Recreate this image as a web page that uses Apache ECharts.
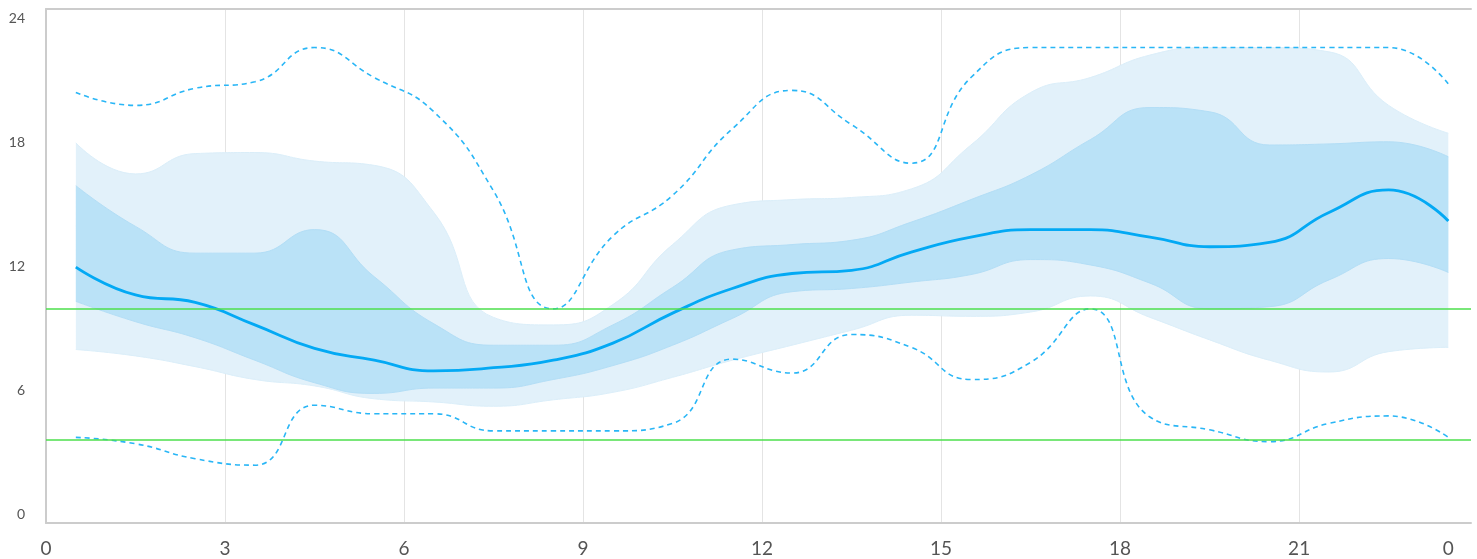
<!DOCTYPE html>
<html>
<head>
<meta charset="utf-8">
<script src="https://cdn.jsdelivr.net/npm/echarts@6/dist/echarts.min.js"></script>
<style>
html,body{margin:0;padding:0;background:#fff;}
#chart{width:1477px;height:559px;}
</style>
</head>
<body>
<div id="chart"></div>
<script>
// ---- data ----
const hours = [0.5,1.5,2.5,3.5,4.5,5.5,6.5,7.5,8.5,9.5,10.5,11.5,12.5,13.5,14.5,15.5,16.5,17.5,18.5,19.5,20.5,21.5,22.5,23.5];
const p5     = [8.1,7.8,7.3,6.7,6.4,5.8,5.65,5.45,5.75,6.1,6.8,7.6,8.3,9.0,9.7,9.65,9.85,10.6,9.6,8.55,7.6,7.05,8.0,8.2];
const p25    = [10.35,9.4,8.65,7.6,6.55,6.05,6.3,6.3,6.7,7.35,8.3,9.55,10.8,10.95,11.25,11.6,12.3,12.05,11.2,10.0,10.1,11.35,12.35,11.7];
const median = [11.95,10.65,10.3,9.25,8.15,7.6,7.1,7.25,7.6,8.4,9.8,10.95,11.65,11.8,12.65,13.35,13.7,13.7,13.35,12.9,13.1,14.5,15.55,14.1];
const p75    = [15.75,13.85,12.6,12.6,13.7,11.5,9.3,8.3,8.3,9.25,11.0,12.75,13.0,13.2,14.05,15.1,16.25,17.9,19.4,19.2,17.65,17.7,17.8,17.1];
const p95    = [17.75,16.3,17.25,17.3,16.9,16.7,14.5,9.6,9.25,10.2,13.0,14.85,15.1,15.2,15.6,17.65,20.1,20.8,21.85,22.2,22.2,22.0,19.5,18.2];
const maxV   = [20.1,19.5,20.3,20.6,22.2,20.8,19.2,15.5,10.0,13.4,15.3,18.4,20.2,18.6,16.8,20.8,22.2,22.2,22.2,22.2,22.2,22.2,22.2,20.5];
const minV   = [4.0,3.7,3.0,2.7,5.5,5.1,5.1,4.3,4.3,4.3,4.65,7.65,7.0,8.8,8.2,6.7,7.5,10.0,4.95,4.35,3.8,4.65,5.0,4.0];
const targetLow = 3.9;
const targetHigh = 10;
const xTickValues = [0,3,6,9,12,15,18,21];
const xLabelValues = [0,3,6,9,12,15,18,21,23.5];
const yLabelRich = {
  o24:{padding:[18,0,0,0]}, o18:{padding:[9,0,0,0]}, o12:{}, o6:{padding:[0,0,9,0]}, o0:{padding:[0,0,18,0]}
};

// rows are [value, hour] so that the stacked dimension is the y value
const rows = arr => hours.map((h,i)=>[arr[i], h]);
const diffRows = (a,b) => hours.map((h,i)=>[+(a[i]-b[i]).toFixed(3), h]);
const enc = {x:1, y:0};

const LIGHT = '#E2F1FA', DARK = '#BAE2F7';
const chart = echarts.init(document.getElementById('chart'));
chart.setOption({
  animation:false,
  textStyle:{fontFamily:'Lato'},
  grid:{left:46,right:6,top:9,bottom:36,containLabel:false,outerBoundsMode:'none'},
  xAxis:[{
    type:'value', min:0, max:23.88, position:'bottom',
    axisLine:{show:true,lineStyle:{color:'#cccccc',width:2}},
    axisTick:{show:false, customValues:xTickValues},
    splitLine:{show:true,lineStyle:{color:'#e4e4e4',width:1}},
    axisLabel:{customValues:xLabelValues, fontSize:19, color:'#555', margin:16, fontFamily:'Lato',
      formatter:v=>String(Math.round(v)%24)}
  },{
    type:'value', min:0, max:23.88, position:'top',
    axisLine:{show:true,lineStyle:{color:'#cccccc',width:2}},
    axisTick:{show:false}, axisLabel:{show:false}, splitLine:{show:false}
  }],
  yAxis:{
    type:'value', min:0, max:24, interval:6,
    axisLine:{show:true,lineStyle:{color:'#cccccc',width:2}},
    axisTick:{show:false}, splitLine:{show:false},
    axisLabel:{fontSize:14,color:'#555',margin:21,fontFamily:'Lato',
      formatter:v=>'{o'+v+'|'+v+'}', rich:yLabelRich}
  },
  series:[
    {type:'line', data:rows(p5), encode:enc, stack:'outer', smooth:0.5, symbol:'none',
      lineStyle:{width:1,color:'#dbeef9'}, z:1},
    {type:'line', data:diffRows(p95,p5), encode:enc, stack:'outer', smooth:0.5, symbol:'none',
      lineStyle:{width:1,color:'#dbeef9'}, areaStyle:{color:LIGHT,opacity:1}, z:1},
    {type:'line', data:rows(p25), encode:enc, stack:'inner', smooth:0.5, symbol:'none',
      lineStyle:{width:1,color:'#b3def6'}, z:2},
    {type:'line', data:diffRows(p75,p25), encode:enc, stack:'inner', smooth:0.5, symbol:'none',
      lineStyle:{width:1,color:'#b3def6'}, areaStyle:{color:DARK,opacity:1}, z:2},
    {type:'line', data:rows(maxV), encode:enc, smooth:0.5, symbol:'none',
      lineStyle:{width:1.6,color:'#29b6f6',type:[5,4]}, z:3},
    {type:'line', data:rows(minV), encode:enc, smooth:0.5, symbol:'none',
      lineStyle:{width:1.6,color:'#29b6f6',type:[5,4]}, z:3},
    {type:'line', data:rows(median), encode:enc, smooth:0.5, symbol:'none',
      lineStyle:{width:2.8,color:'#03a9f4'}, z:4,
      markLine:{silent:true, symbol:'none', label:{show:false},
        lineStyle:{color:'#4cdf4c',width:1.5,type:'solid'},
        data:[{yAxis:targetHigh},{yAxis:targetLow}]}}
  ]
});
</script>
</body>
</html>
